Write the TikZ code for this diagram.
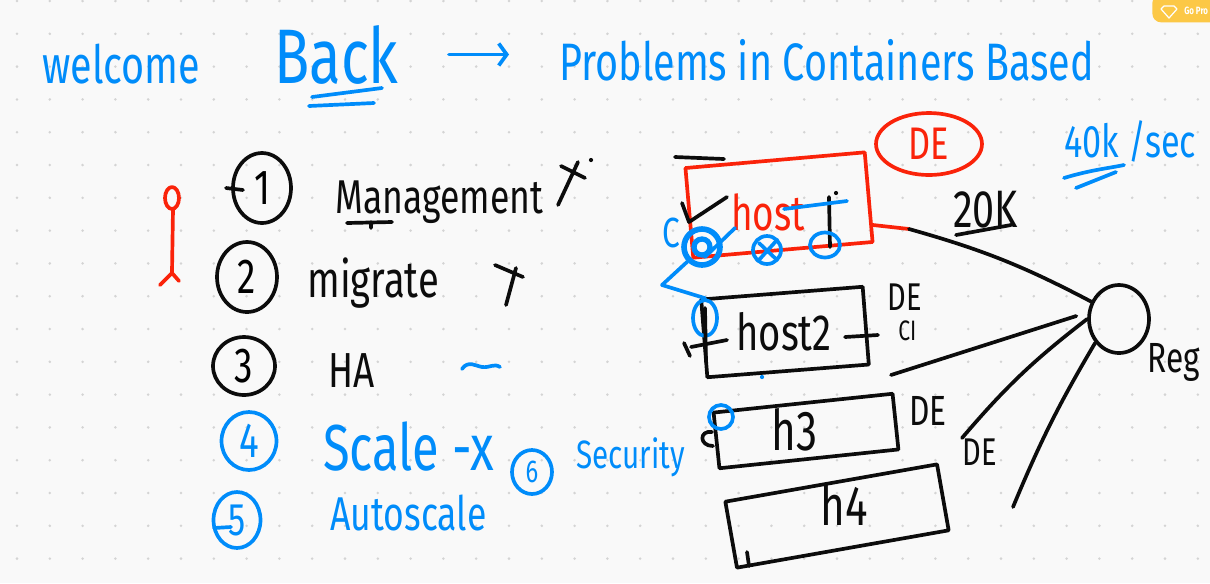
\documentclass[tikz,border=0pt]{standalone}
\usepackage{fontspec}
\setmainfont{Fira Sans}[FakeStretch=0.75]
\usetikzlibrary{arrows.meta,positioning,shapes.geometric,calc}
\definecolor{inkblue}{RGB}{0,140,250}
\definecolor{inkred}{RGB}{250,35,10}
\definecolor{ink}{RGB}{12,12,12}
\definecolor{paper}{RGB}{249,249,249}
\definecolor{griddot}{RGB}{212,212,212}
\definecolor{btnyellow}{RGB}{252,200,70}
\newcommand{\penfont}[1]{\fontsize{#1}{#1}\selectfont}
\tikzset{
  pen/.style={line width=2.1pt, line cap=round, line join=round},
  bluepen/.style={pen, draw=inkblue},
  redpen/.style={pen, draw=inkred},
  blackpen/.style={pen, draw=ink},
  numring/.style={ellipse, draw=ink, pen, inner sep=0pt},
  hostbox/.style={rectangle, draw=ink, pen, inner sep=0pt},
  hand/.style={anchor=base west, inner sep=0pt, text=ink},
}

\begin{document}
\begin{tikzpicture}[x=0.02cm, y=-0.02cm]
\useasboundingbox (0,0) rectangle (1210,583);
\clip (0,0) rectangle (1210,583);
\fill[paper] (0,0) rectangle (1210,583);
% dotted board
\foreach \i in {0,...,36}
  \foreach \j in {0,...,17}
    \fill[griddot] (17+32.8*\i,1+32.8*\j) circle[radius=0.8pt];

% corner button
\node[fill=btnyellow, rounded corners=5pt, minimum width=1.8cm, minimum height=0.56cm, anchor=north west, inner sep=0pt] (gopro) at (1152,-6) {};
\node[hand, text=white, font=\bfseries\penfont{6}] (gotext) at (1184,14) {Go Pro};
\draw[white, line width=0.7pt, line join=round] (1164,6) -- (1174,6) -- (1177,9) -- (1169,18) -- (1161,9) -- cycle;

% title
\node[hand, text=inkblue, font=\penfont{30}] (welcome) at (42,83) {welcome};
\node[hand, text=inkblue, font=\penfont{44}] (back) at (274,83) {Back};
\node[hand, text=inkblue, font=\penfont{30}] (problems) at (559,80) {Problems in Containers Based};
\draw[bluepen, -{Straight Barb[length=1.6mm,width=4.4mm]}, shorten <=1cm, shorten >=1cm] (back.east) -- (back.east -| problems.west);
\draw[bluepen] (312,97) -- (382,88);
\draw[bluepen] (309,106) -- (374,103);

% red stick figure
\draw[redpen] (172,198) ellipse[x radius=7, y radius=11];
\draw[redpen] (173,209) -- (172,272) (160,285) -- (172,273) -- (179,281);

% list of problems
\node[numring, minimum width=1.16cm, minimum height=1.4cm, font=\penfont{28}] (n1) at (262,188) {1};
\draw[blackpen] (226,188) -- (243,190);
\node[hand, font=\penfont{27}] (mgmt) at (335,213) {Management};
\draw[blackpen] (347,223) -- (392,222) (371,222) -- (371,228);
\draw[blackpen] (558,205) -- (578,162) (561,166) -- (585,178);
\fill[ink] (591,160) circle[radius=1.2pt];

\node[numring, minimum width=1.2cm, minimum height=1.4cm, font=\penfont{28}] (n2) at (247,277) {2};
\node[hand, font=\penfont{29}] (migrate) at (307,297) {migrate};
\draw[blackpen] (495,265) -- (523,277) (516,268) -- (506,305);

\node[numring, minimum width=1.24cm, minimum height=1.16cm, font=\penfont{28}] (n3) at (244,366) {3};
\node[hand, font=\penfont{28}] (ha) at (328,387) {HA};
\draw[bluepen] (462,369) .. controls (468,360) and (476,366) .. (482,367) .. controls (490,368) and (494,363) .. (500,367);

\node[numring, draw=inkblue, text=inkblue, minimum width=1.1cm, minimum height=1.16cm, font=\penfont{28}] (n4) at (249,441) {4};
\node[hand, text=inkblue, font=\penfont{37}] (scale) at (323,470) {Scale -x};
\node[numring, draw=inkblue, text=inkblue, minimum width=0.94cm, minimum height=1.12cm, font=\penfont{26}] (n5) at (237,520) {5};
\draw[bluepen] (214,528) -- (231,527);
\node[hand, text=inkblue, font=\penfont{27}] (autoscale) at (330,530) {Autoscale};
\node[numring, draw=inkblue, text=inkblue, minimum width=0.8cm, minimum height=0.88cm, font=\penfont{18}] (n6) at (532,472) {6};
\node[hand, text=inkblue, font=\penfont{22.5}] (security) at (576,468) {Security};

% hosts
\node[hostbox, draw=inkred, rotate=5, minimum width=3.6cm, minimum height=1.8cm] (host) at (779,205) {};
\node[hand, text=inkred, font=\penfont{28}] (hostlbl) at (731,230) {host};
\node[hostbox, rotate=4.5, minimum width=3.24cm, minimum height=1.56cm] (host2) at (785,332) {};
\node[hand, font=\penfont{29}] (host2lbl) at (736,350) {host2};
\node[hostbox, rotate=6, minimum width=3.6cm, minimum height=1.12cm] (h3) at (806,431) {};
\node[hand, font=\penfont{32}] (h3lbl) at (771,450) {h3};
\node[hostbox, rotate=10, minimum width=4.3cm, minimum height=1.34cm] (h4) at (837,516) {};
\node[hand, font=\penfont{32}] (h4lbl) at (820,525) {h4};
\node[ellipse, draw=inkred, pen, text=inkred, minimum width=2.12cm, minimum height=1.24cm, inner sep=0pt, font=\penfont{26}] (dered) at (929,144) {DE};

% marks on host
\draw[blackpen] (675,157) -- (724,159);
\draw[blackpen] (682,203) -- (689,222) -- (727,197);
\draw[blackpen] (829,197) -- (830,247);
\fill[ink] (836,193) circle[radius=1.2pt];
\node[circle, draw=inkblue, line width=3.2pt, minimum size=0.72cm, inner sep=0pt] (cbig) at (702,247) {};
\draw[inkblue, line width=3pt] (cbig) circle[radius=8];
\draw[bluepen] (705,257) -- (735,228);
\node[hand, text=inkblue, font=\penfont{24}] (cee) at (662,247) {C};
\node[circle, draw=inkblue, pen, minimum size=0.56cm, inner sep=0pt] (cx) at (767,250) {};
\draw[bluepen] (758,261) -- (777,240) (759,243) -- (776,259);
\node[ellipse, draw=inkblue, pen, minimum width=0.6cm, minimum height=0.5cm, inner sep=0pt] (ci) at (825,245) {};
\draw[bluepen] (784,209) -- (847,201);
\coordinate (bend) at (662,285);
\node[ellipse, draw=inkblue, pen, minimum width=0.48cm, minimum height=0.72cm, inner sep=0pt] (c2i) at (705,318) {};
\draw[bluepen] (cbig.south west) -- (bend) -- (c2i.north);

% marks on host2, h3, h4
\draw[blackpen] (705,308) -- (706,362);
\draw[blackpen] (684,343) -- (690,356) (691,347) -- (727,340);
\draw[blackpen] (845,337) -- (878,335);
\fill[inkblue] (762,377) circle[radius=1.2pt];
\node[circle, draw=inkblue, pen, minimum size=0.48cm, inner sep=0pt] (c3i) at (721,417) {};
\draw[blackpen] (712,432) .. controls (699,430) and (699,446) .. (713,446);
\draw[blackpen] (747,552) -- (749,566);

% labels
\node[hand, font=\penfont{22}] (de2) at (887,310) {DE};
\node[hand, font=\penfont{16}] (ci2) at (898,340) {CI};
\node[hand, font=\penfont{24}] (de3) at (909,425) {DE};
\node[hand, font=\penfont{22}] (de4) at (962,465) {DE};
\node[hand, font=\penfont{30}] (twenty) at (953,227) {20K};
\draw[blackpen] (956,235) -- (1011,225);
\node[hand, text=inkblue, font=\penfont{26}] (rate) at (1064,157) {40k /sec};
\draw[bluepen] (1064,178) .. controls (1090,170) and (1110,168) .. (1124,165);
\draw[bluepen] (1076,188) -- (1116,172);

% registry
\node[ellipse, draw=ink, pen, minimum width=1.2cm, minimum height=1.36cm, inner sep=0pt] (reg) at (1119,319) {};
\node[hand, font=\penfont{24}] (reglbl) at (1147,372) {Reg};

\coordinate (hostend) at (909,229);
\coordinate (h2out) at (891,375);
\coordinate (h4out) at (1013,507);
\draw[redpen] ($(host.east)!0.6!(host.south east)$) -- (hostend);
\draw[blackpen] (hostend) to[bend left=6] (reg.148);
\draw[blackpen, shorten >=0.24cm] (h2out) -- (reg.168);
\draw[blackpen] (de4.north west) to[bend left=6] (reg.west);
\draw[blackpen] (h4out) to[bend left=4] (reg.225);
\end{tikzpicture}
\end{document}
